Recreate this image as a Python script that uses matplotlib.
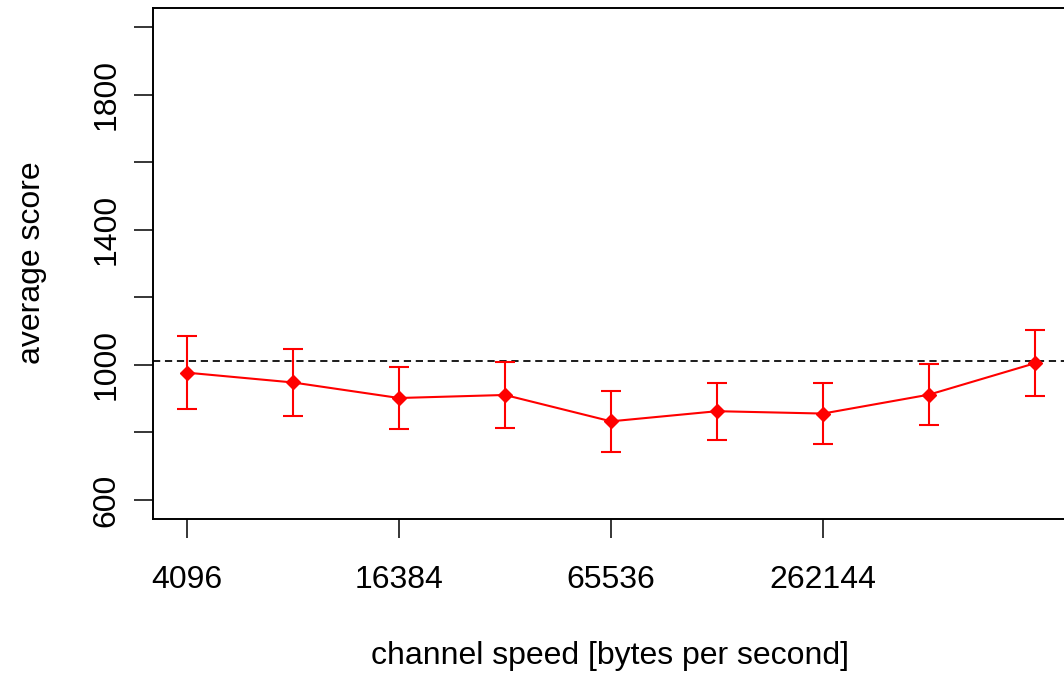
import matplotlib
matplotlib.use("Agg")
import matplotlib.pyplot as plt
from matplotlib.ticker import FixedLocator, FixedFormatter, NullLocator

plt.rcParams["font.family"] = ["Liberation Sans", "DejaVu Sans"]
plt.rcParams["lines.scale_dashes"] = False

# channel speeds (bytes per second)
speeds = [4096, 8192, 16384, 32768, 65536, 131072, 262144, 524288, 1048576]
# mean score and half-width of the error bar at each speed
mean_score = [977, 948, 902, 911, 833, 863, 856, 912, 1005]
err_half = [108, 98, 92, 98, 90, 84, 91, 91, 98]
# reference score level
baseline = 1011

x_ticks = [4096, 16384, 65536, 262144]
x_ticklabels = ["4096", "16384", "65536", "262144"]
y_ticks = [600, 800, 1000, 1200, 1400, 1600, 1800, 2000]
y_ticklabels = ["600", "", "1000", "", "1400", "", "1800", ""]

FS = 23

W, H = 1064, 675
fig = plt.figure(figsize=(W / 100, H / 100), dpi=100)
left, right, top, bottom = 153, 1069, 8, 519
ax = fig.add_axes([left / W, (H - bottom) / H, (right - left) / W, (bottom - top) / H])

ax.set_xscale("log", base=2)
ax.set_xlim(2 ** 11.68, 2 ** 20.32)
ax.set_ylim(544, 2056)

ax.axhline(baseline, color="black", lw=1.25, linestyle=(0, (5.2, 3.4)), zorder=1)

ax.errorbar(speeds, mean_score, yerr=err_half, color="#ff0000", ecolor="#ff0000",
            lw=1.5, elinewidth=1.5, capsize=7.2, capthick=1.5,
            marker="D", ms=7.3, mec="#ff0000", mfc="#ff0000", zorder=3)

ax.xaxis.set_major_locator(FixedLocator(x_ticks))
ax.xaxis.set_major_formatter(FixedFormatter(x_ticklabels))
ax.xaxis.set_minor_locator(NullLocator())
ax.yaxis.set_major_locator(FixedLocator(y_ticks))
ax.yaxis.set_major_formatter(FixedFormatter(y_ticklabels))
ax.yaxis.set_minor_locator(NullLocator())

ax.tick_params(axis="both", which="major", length=13.5, width=1.1, labelsize=FS,
               direction="out", color="black")
ax.tick_params(axis="x", pad=19.5)
ax.tick_params(axis="y", pad=9)
for lbl in ax.get_yticklabels():
    lbl.set_rotation(90)
    lbl.set_verticalalignment("center")

for s in ax.spines.values():
    s.set_linewidth(1.4)
    s.set_color("black")

fig.text(610 / W, 1 - 656 / H, "channel speed [bytes per second]", ha="center", va="center",
         fontsize=FS)
fig.text(32 / W, 1 - 263 / H, "average score", ha="center", va="center",
         rotation=90, fontsize=FS)

fig.savefig("out.png", dpi=100)
